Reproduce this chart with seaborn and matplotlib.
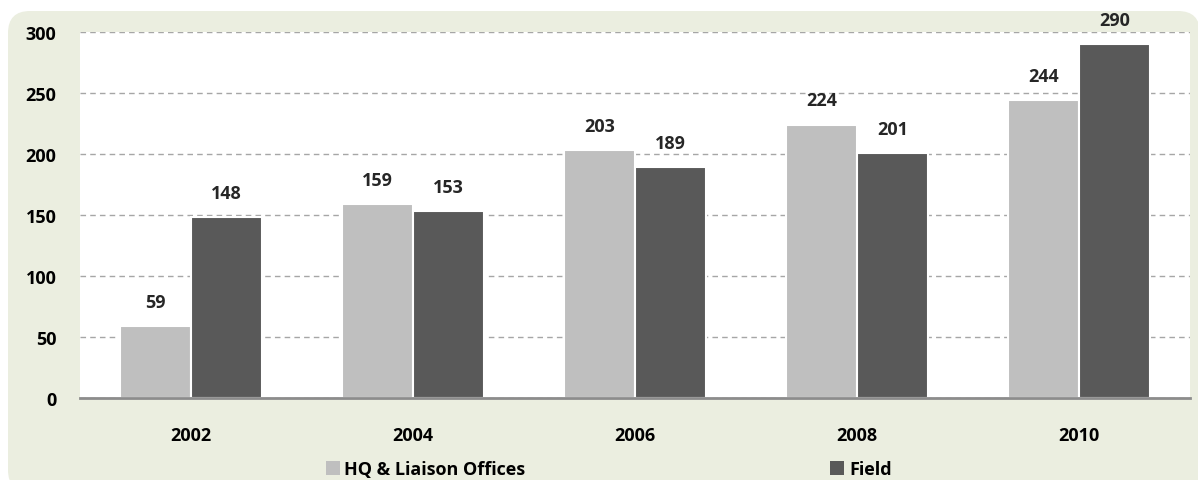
import pandas as pd
import matplotlib.pyplot as plt
import seaborn as sns
from matplotlib.patches import FancyBboxPatch

years = ['2002', '2004', '2006', '2008', '2010']
hq = [59, 159, 203, 224, 244]
field = [148, 153, 189, 201, 290]
series_names = ['HQ & Liaison Offices', 'Field']
bar_colors = ['#bfbfbf', '#595959']

df = pd.DataFrame({
    'Year': years * 2,
    'Staff': hq + field,
    'Group': [series_names[0]] * len(years) + [series_names[1]] * len(years),
})

sns.set_style('white')
plt.rcParams['font.family'] = ['Open Sans', 'DejaVu Sans']

fig = plt.figure(figsize=(11.98, 4.81), dpi=100)
fig.patch.set_facecolor('white')

# rounded light-green panel behind the chart (inches)
panel = FancyBboxPatch((0.08, -0.12), 11.92, 4.81 - 0.12 + 0.12,
                       boxstyle='round,pad=0,rounding_size=0.22',
                       transform=fig.dpi_scale_trans, facecolor='#ebeee0',
                       edgecolor='none', zorder=-5)
fig.patches.append(panel)

ax = fig.add_axes([80 / 1198, 1 - 399 / 481, 1110 / 1198, 366 / 481])
ax.set_zorder(2)
ax.set_facecolor('white')

sns.barplot(data=df, x='Year', y='Staff', hue='Group', palette=bar_colors,
            width=0.64, edgecolor='white', linewidth=1.5, ax=ax, legend=True)

ax.set_ylim(0, 300)
ax.set_yticks(range(0, 301, 50))
ax.yaxis.grid(True, linestyle=(0, (4, 3)), color='#a6a6a6', linewidth=1)
ax.set_axisbelow(True)
for s in ['top', 'right', 'left']:
    ax.spines[s].set_visible(False)
ax.spines['bottom'].set_color('#8c8c8c')
ax.spines['bottom'].set_linewidth(2)
ax.tick_params(axis='both', length=0, labelsize=13, labelcolor='black')
ax.tick_params(axis='x', pad=20)
ax.tick_params(axis='y', pad=17)
for lbl in ax.get_xticklabels() + ax.get_yticklabels():
    lbl.set_fontweight('bold')
ax.set_xlabel('')
ax.set_ylabel('')

# value labels above the bars
for cont in ax.containers:
    for bar in cont:
        h = bar.get_height()
        ax.annotate(f'{h:.0f}', (bar.get_x() + bar.get_width() / 2, h),
                    xytext=(0, 11), textcoords='offset points',
                    ha='center', va='bottom', fontsize=13, fontweight='bold',
                    annotation_clip=False)

ax.get_legend().remove()
handles, labels = ax.get_legend_handles_labels()
for h in handles:
    h.set_edgecolor('none')
leg = fig.legend(handles, labels, loc='center', bbox_to_anchor=(0.508, 1 - 470 / 481),
                 ncol=2, frameon=False, handlelength=0.78, handleheight=0.78,
                 handletextpad=0.25, columnspacing=16.9,
                 prop={'weight': 'bold', 'size': 13})
for t in leg.get_texts():
    t.set_color('black')

plt.savefig('out.png', dpi=100)
